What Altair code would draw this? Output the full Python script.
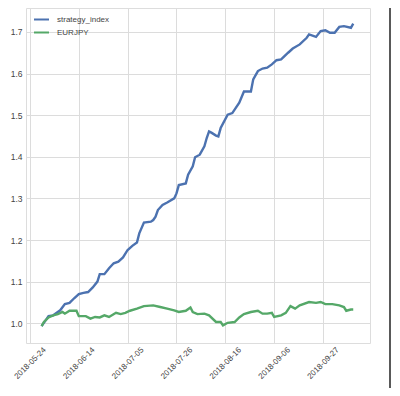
import altair as alt
import pandas as pd

strategy_dates = [
    "2018-05-29", "2018-06-01", "2018-06-03", "2018-06-06", "2018-06-08", "2018-06-10",
    "2018-06-12", "2018-06-14", "2018-06-16", "2018-06-18", "2018-06-20", "2018-06-22",
    "2018-06-23", "2018-06-25", "2018-06-27", "2018-06-29", "2018-07-01", "2018-07-03",
    "2018-07-05", "2018-07-07", "2018-07-09", "2018-07-10", "2018-07-12", "2018-07-15",
    "2018-07-16", "2018-07-17", "2018-07-18", "2018-07-20", "2018-07-22", "2018-07-25",
    "2018-07-26", "2018-07-27", "2018-07-30", "2018-07-31", "2018-08-02", "2018-08-03",
    "2018-08-05", "2018-08-07", "2018-08-08", "2018-08-09", "2018-08-10", "2018-08-12",
    "2018-08-13", "2018-08-14", "2018-08-17", "2018-08-19", "2018-08-22", "2018-08-24",
    "2018-08-27", "2018-08-28", "2018-08-30", "2018-09-01", "2018-09-03", "2018-09-05",
    "2018-09-07", "2018-09-09", "2018-09-12", "2018-09-14", "2018-09-17", "2018-09-20",
    "2018-09-21", "2018-09-24", "2018-09-26", "2018-09-28", "2018-09-30", "2018-10-02",
    "2018-10-04", "2018-10-06", "2018-10-09", "2018-10-10",
]
strategy_values = [
    0.993, 1.017, 1.019, 1.031, 1.046, 1.049,
    1.060, 1.070, 1.073, 1.075, 1.086, 1.100,
    1.118, 1.118, 1.132, 1.144, 1.148, 1.158,
    1.176, 1.186, 1.194, 1.216, 1.242, 1.244,
    1.248, 1.256, 1.272, 1.284, 1.290, 1.300,
    1.312, 1.332, 1.336, 1.357, 1.377, 1.399,
    1.405, 1.425, 1.445, 1.461, 1.458, 1.451,
    1.449, 1.469, 1.501, 1.505, 1.530, 1.557,
    1.557, 1.586, 1.606, 1.612, 1.614, 1.622,
    1.632, 1.634, 1.650, 1.660, 1.670, 1.686,
    1.694, 1.688, 1.702, 1.704, 1.698, 1.698,
    1.712, 1.714, 1.710, 1.720,
]

eurjpy_dates = [
    "2018-05-29", "2018-05-30", "2018-06-01", "2018-06-03", "2018-06-05", "2018-06-07",
    "2018-06-08", "2018-06-10", "2018-06-13", "2018-06-14", "2018-06-17", "2018-06-19",
    "2018-06-21", "2018-06-23", "2018-06-25", "2018-06-27", "2018-06-30", "2018-07-02",
    "2018-07-04", "2018-07-06", "2018-07-09", "2018-07-12", "2018-07-16", "2018-07-19",
    "2018-07-22", "2018-07-25", "2018-07-27", "2018-07-30", "2018-08-01", "2018-08-02",
    "2018-08-04", "2018-08-07", "2018-08-09", "2018-08-12", "2018-08-14", "2018-08-15",
    "2018-08-17", "2018-08-20", "2018-08-22", "2018-08-24", "2018-08-27", "2018-08-30",
    "2018-09-01", "2018-09-03", "2018-09-05", "2018-09-06", "2018-09-09", "2018-09-11",
    "2018-09-13", "2018-09-15", "2018-09-17", "2018-09-21", "2018-09-24", "2018-09-26",
    "2018-09-28", "2018-10-01", "2018-10-04", "2018-10-06", "2018-10-07", "2018-10-09",
    "2018-10-10",
]
eurjpy_values = [
    0.993, 1.003, 1.014, 1.019, 1.022, 1.027,
    1.023, 1.030, 1.030, 1.017, 1.017, 1.011,
    1.015, 1.014, 1.019, 1.015, 1.025, 1.022,
    1.025, 1.030, 1.035, 1.041, 1.043, 1.039,
    1.035, 1.031, 1.027, 1.030, 1.038, 1.027,
    1.022, 1.023, 1.019, 1.003, 1.003, 0.995,
    1.001, 1.003, 1.014, 1.022, 1.027, 1.030,
    1.023, 1.023, 1.025, 1.015, 1.019, 1.025,
    1.041, 1.035, 1.043, 1.051, 1.049, 1.051,
    1.046, 1.046, 1.043, 1.039, 1.030, 1.033,
    1.033,
]

series_names = ["strategy_index", "EURJPY"]
series_colors = ["#4C72B0", "#55A868"]
y_ticks = [1.0, 1.1, 1.2, 1.3, 1.4, 1.5, 1.6, 1.7]
x_tick_dates = [(2018, 5, 24), (2018, 6, 14), (2018, 7, 5), (2018, 7, 26),
                (2018, 8, 16), (2018, 9, 6), (2018, 9, 27)]

df = pd.concat([
    pd.DataFrame({"date": strategy_dates, "value": strategy_values, "series": series_names[0]}),
    pd.DataFrame({"date": eurjpy_dates, "value": eurjpy_values, "series": series_names[1]}),
], ignore_index=True)

FONT = "Liberation Sans"
LABEL_COLOR = "#444444"
GRID_COLOR = "#dcdcdc"

x_values = [alt.DateTime(year=y, month=m, date=d, utc=True) for (y, m, d) in x_tick_dates]

lines = alt.Chart(df).mark_line(strokeWidth=2.4, clip=True).encode(
    x=alt.X(
        "date:T",
        title=None,
        scale=alt.Scale(
            type="utc",
            domain=[alt.DateTime(year=2018, month=5, date=22, hours=7, utc=True),
                    alt.DateTime(year=2018, month=10, date=17, hours=5, utc=True)],
            nice=False,
        ),
        axis=alt.Axis(
            values=x_values,
            labelExpr="utcFormat(datum.value, '%Y-%m-%d')",
            labelAngle=-45,
            labelAlign="center",
            labelBaseline="middle",
            labelPadding=20,
            ticks=False,
            domain=False,
            grid=True,
            gridColor=GRID_COLOR,
            labelFont=FONT,
            labelFontSize=8,
            labelColor=LABEL_COLOR,
        ),
    ),
    y=alt.Y(
        "value:Q",
        title=None,
        scale=alt.Scale(domain=[0.9525, 1.7575], nice=False, zero=False),
        axis=alt.Axis(
            values=y_ticks,
            format=".1f",
            ticks=False,
            domain=False,
            grid=True,
            gridColor=GRID_COLOR,
            labelPadding=4,
            labelFont=FONT,
            labelFontSize=8.5,
            labelColor=LABEL_COLOR,
        ),
    ),
    color=alt.Color(
        "series:N",
        scale=alt.Scale(domain=series_names, range=series_colors),
        legend=alt.Legend(
            title=None,
            orient="none",
            legendX=7,
            legendY=3,
            symbolType="stroke",
            symbolSize=225,
            symbolStrokeWidth=2,
            labelFont=FONT,
            labelFontSize=8,
            labelColor=LABEL_COLOR,
            labelOffset=7,
            rowPadding=-4,
            padding=0,
        ),
    ),
    order=alt.Order("date:T"),
)

border = alt.Chart(pd.DataFrame({"k": [0]})).mark_rule(
    color="#222222", strokeWidth=1.5, clip=False
).encode(x=alt.value(364), y=alt.value(0), y2=alt.value(380))

chart = alt.layer(lines, border).properties(
    width=344,
    height=335,
    autosize=alt.AutoSizeParams(type="none"),
    padding={"left": 18, "top": 0, "right": 22, "bottom": 45},
).configure_view(
    stroke="#d0d0d0",
    strokeWidth=1,
).configure(background="white")

chart.save("out.html", embed_options={"renderer": "svg", "actions": False})
